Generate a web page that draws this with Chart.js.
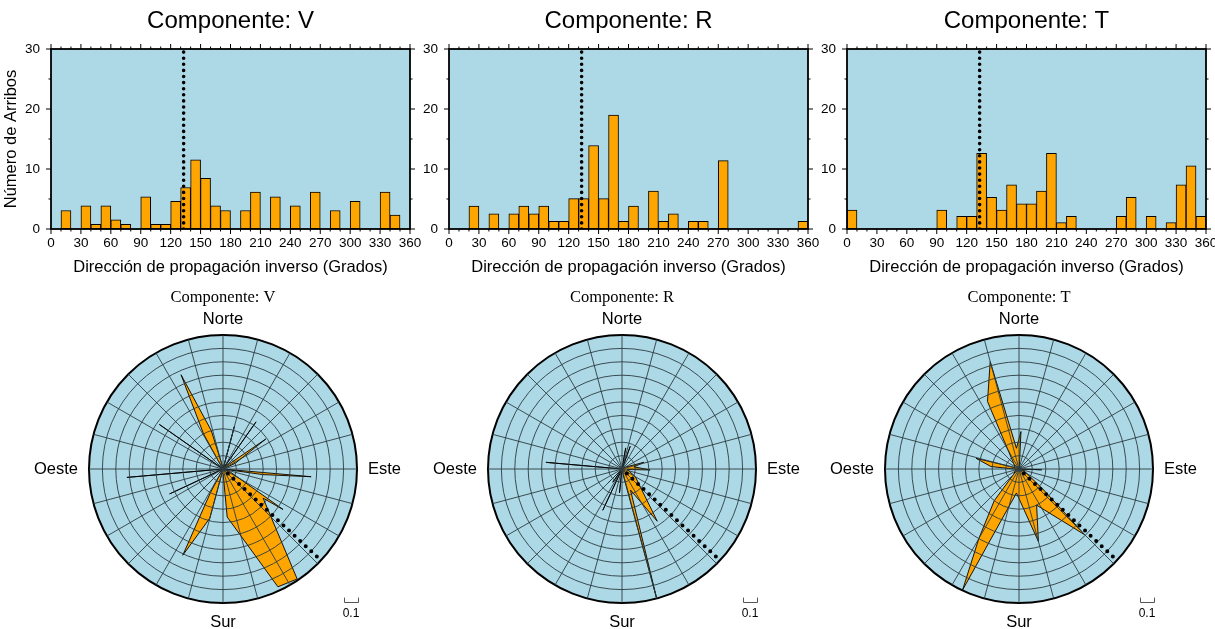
<!DOCTYPE html>
<html>
<head>
<meta charset="utf-8">
<script src="https://cdn.jsdelivr.net/npm/chart.js@4.4.1/dist/chart.umd.min.js"></script>
<style>
html, body { margin: 0; padding: 0; background: #fff; width: 1215px; height: 629px; overflow: hidden; position: relative; }
canvas { position: absolute; }
</style>
</head>
<body>
<canvas id="histV" width="430" height="285" style="left:0px;top:0px"></canvas>
<canvas id="histR" width="430" height="285" style="left:400px;top:0px"></canvas>
<canvas id="histT" width="430" height="285" style="left:800px;top:0px"></canvas>
<canvas id="roseV" width="410" height="344" style="left:0px;top:285px"></canvas>
<canvas id="roseR" width="400" height="344" style="left:410px;top:285px"></canvas>
<canvas id="roseT" width="405" height="344" style="left:810px;top:285px"></canvas>
<script>
// 10-degree bins (left edge of each bin)
const binStarts = [0, 10, 20, 30, 40, 50, 60, 70, 80, 90, 100, 110, 120, 130, 140, 150, 160, 170,
                   180, 190, 200, 210, 220, 230, 240, 250, 260, 270, 280, 290, 300, 310, 320, 330, 340, 350];
const xTickValues = [0, 30, 60, 90, 120, 150, 180, 210, 240, 270, 300, 330, 360];
const yTickValues = [0, 10, 20, 30];

// percentage of arrivals per bin
const arribosV = [0, 3.08, 0, 3.85, 0.77, 3.85, 1.54, 0.77, 0, 5.38, 0.77, 0.77, 4.62, 6.92, 11.54, 8.46, 3.85, 3.08,
                  0, 3.08, 6.15, 0, 5.38, 0, 3.85, 0, 6.15, 0, 3.08, 0, 4.62, 0, 0, 6.15, 2.31, 0];
const arribosR = [0, 0, 3.8, 0, 2.53, 0, 2.53, 3.8, 2.53, 3.8, 1.27, 1.27, 5.06, 5.06, 13.92, 5.06, 18.99, 1.27,
                  3.8, 0, 6.33, 1.27, 2.53, 0, 1.27, 1.27, 0, 11.39, 0, 0, 0, 0, 0, 0, 0, 1.27];
const arribosT = [3.16, 0, 0, 0, 0, 0, 0, 0, 0, 3.16, 0, 2.11, 2.11, 12.63, 5.26, 3.16, 7.37, 4.21,
                  4.21, 6.32, 12.63, 1.05, 2.11, 0, 0, 0, 0, 2.11, 5.26, 0, 2.11, 0, 1.05, 7.37, 10.53, 2.11];

// expected back-azimuth (dotted line)
const backAzimuth = 133;

// rose diagrams: azimuth (deg, clockwise from north) and normalised length
const roseAzV = [14, 15, 16, 34, 35, 36, 50, 55, 65, 70, 93, 95, 98, 102,
                 110, 124, 126, 146, 155, 175, 178, 193, 195, 205, 208, 212,
                 224, 225, 226, 244, 245, 246, 264, 265, 266, 304, 305, 306, 328, 331, 336, 343, 350];
const roseLenV = [0, 0.33, 0, 0, 0.43, 0, 0.05, 0.39, 0.1, 0, 0, 0.66, 0.3, 0,
                  0.05, 0.54, 0.37, 0.99, 0.97, 0.36, 0.04, 0.03, 0.38, 0.71, 0.2, 0,
                  0, 0.65, 0, 0, 0.44, 0, 0, 0.72, 0, 0, 0.58, 0, 0.02, 0.3, 0.77, 0.3, 0.02];

const roseAzR = [9, 10, 11, 19, 20, 21, 62, 73, 80, 85, 92, 95, 120, 146, 158, 165, 168,
                 185, 186, 187, 204, 205, 206, 214, 215, 216, 224, 225, 226, 274, 275, 276];
const roseLenR = [0, 0.16, 0, 0, 0.18, 0, 0.03, 0.17, 0.09, 0.12, 0.21, 0.04, 0.115, 0.47, 0.17, 1.0, 0.06,
                  0, 0.18, 0, 0, 0.34, 0, 0, 0.12, 0, 0, 0.15, 0, 0, 0.57, 0];

const roseAzT = [3, 8, 91, 92, 93, 110, 130, 135, 154, 165, 186, 205, 210, 218, 225,
                 265, 275, 284, 290, 320, 335, 345, 353];
const roseLenT = [0.28, 0.02, 0, 0.17, 0, 0.04, 0.23, 0.695, 0.3, 0.56, 0.18, 0.995, 0.6, 0.3, 0.06,
                  0.02, 0.21, 0.33, 0.03, 0.07, 0.556, 0.83, 0.156];

const degreeLabels = Array.from({ length: 360 }, (_, i) => String(i));

const SANS = "'Liberation Sans', Arial, Helvetica, sans-serif";
const SERIF = "'Liberation Serif', 'Times New Roman', serif";
const PANEL_BG = 'rgb(173, 216, 230)';
const PETAL = 'rgb(255, 165, 0)';
const GRID = '#2c3c42';

// light blue plot area, plus a frame with outward ticks on all four sides
const histFrame = {
    id: 'histFrame',
    beforeDatasetsDraw(chart) {
        const { ctx, chartArea: a } = chart;
        ctx.save();
        ctx.fillStyle = PANEL_BG;
        ctx.fillRect(a.left, a.top, a.width, a.height);
        ctx.restore();
    },
    afterDraw(chart) {
        const { ctx, chartArea: a, scales: { x, y } } = chart;
        ctx.save();
        ctx.strokeStyle = '#000';
        ctx.lineWidth = 1;
        ctx.beginPath();
        for (let v = 0; v <= 360; v += 10) {
            const px = x.getPixelForValue(v);
            const len = v % 30 === 0 ? 5 : 2.5;
            ctx.moveTo(px, a.bottom); ctx.lineTo(px, a.bottom + len);
            ctx.moveTo(px, a.top); ctx.lineTo(px, a.top - len);
        }
        for (let v = 0; v <= 30; v += 5) {
            const py = y.getPixelForValue(v);
            const len = v % 10 === 0 ? 5 : 2.5;
            ctx.moveTo(a.left, py); ctx.lineTo(a.left - len, py);
            ctx.moveTo(a.right, py); ctx.lineTo(a.right + len, py);
        }
        ctx.stroke();
        ctx.lineWidth = 1.8;
        ctx.strokeRect(a.left, a.top, a.width, a.height);
        ctx.restore();
    }
};

function makeHist(id, title, values, yWidth, padRight, showYTitle) {
    new Chart(document.getElementById(id), {
        type: 'bar',
        data: {
            datasets: [{
                type: 'line',
                data: [{ x: backAzimuth, y: 0 }, { x: backAzimuth, y: 30 }],
                borderColor: '#000',
                borderWidth: 3.6,
                borderDash: [0, 6.1],
                borderCapStyle: 'round',
                pointRadius: 0,
                order: 0
            }, {
                data: binStarts.map((b, i) => ({ x: b + 5, y: values[i] })),
                backgroundColor: PETAL,
                borderColor: '#000',
                borderWidth: 1,
                borderSkipped: false,
                barPercentage: 1,
                categoryPercentage: 1,
                order: 1
            }]
        },
        options: {
            responsive: false,
            animation: false,
            events: [],
            layout: { padding: { left: 0, right: padRight, top: 0, bottom: 0 } },
            plugins: {
                legend: { display: false },
                tooltip: { enabled: false },
                title: {
                    display: true,
                    text: title,
                    fullSize: false,
                    color: '#000',
                    font: { family: SANS, size: 24, weight: 'normal' },
                    padding: { top: 7.3, bottom: 12.9 }
                }
            },
            scales: {
                x: {
                    type: 'linear',
                    min: 0,
                    max: 360,
                    offset: false,
                    grid: { display: false, drawTicks: false, offset: false },
                    border: { display: false },
                    afterBuildTicks: (s) => { s.ticks = xTickValues.map(v => ({ value: v })); },
                    afterFit: (s) => { s.height = 56; },
                    ticks: {
                        autoSkip: false,
                        maxRotation: 0,
                        padding: 6,
                        color: '#000',
                        font: { family: SANS, size: 13.5 }
                    },
                    title: {
                        display: true,
                        text: 'Dirección de propagación inverso (Grados)',
                        color: '#000',
                        font: { family: SANS, size: 16.5 },
                        padding: { top: 0, bottom: 8 }
                    }
                },
                y: {
                    min: 0,
                    max: 30,
                    grid: { display: false, drawTicks: false },
                    border: { display: false },
                    afterBuildTicks: (s) => { s.ticks = yTickValues.map(v => ({ value: v })); },
                    afterFit: (s) => { s.width = yWidth; },
                    ticks: {
                        padding: 11,
                        color: '#000',
                        font: { family: SANS, size: 13.5 }
                    },
                    title: {
                        display: showYTitle,
                        text: 'Número de Arribos',
                        color: '#000',
                        font: { family: SANS, size: 16.5 },
                        padding: { top: 2, bottom: 0 }
                    }
                }
            }
        },
        plugins: [histFrame]
    });
}

// rose background, dotted back-azimuth, compass labels and scale bar
const roseDecor = {
    id: 'roseDecor',
    beforeDatasetsDraw(chart) {
        const s = chart.scales.r;
        const ctx = chart.ctx;
        ctx.save();
        ctx.fillStyle = PANEL_BG;
        ctx.beginPath();
        ctx.arc(s.xCenter, s.yCenter, s.drawingArea, 0, Math.PI * 2);
        ctx.fill();
        ctx.restore();
    },
    afterDraw(chart) {
        const s = chart.scales.r;
        const ctx = chart.ctx;
        const xc = s.xCenter, yc = s.yCenter, R = s.drawingArea;
        ctx.save();
        const p0 = s.getPointPositionForValue(backAzimuth, 0.05);
        const p1 = s.getPointPositionForValue(backAzimuth, 0.96);
        ctx.strokeStyle = '#000';
        ctx.lineWidth = 4;
        ctx.lineCap = 'round';
        ctx.setLineDash([0, 7.6]);
        ctx.beginPath();
        ctx.moveTo(p0.x, p0.y);
        ctx.lineTo(p1.x, p1.y);
        ctx.stroke();
        ctx.setLineDash([]);

        ctx.fillStyle = '#000';
        ctx.font = '16.5px ' + SANS;
        ctx.textBaseline = 'alphabetic';
        ctx.textAlign = 'center';
        ctx.fillText('Norte', xc, yc - R - 11);
        ctx.fillText('Sur', xc, yc + R + 24);
        ctx.textBaseline = 'middle';
        ctx.textAlign = 'right';
        ctx.fillText('Oeste', xc - R - 11, yc);
        ctx.textAlign = 'left';
        ctx.fillText('Este', xc + R + 11, yc);

        ctx.strokeStyle = '#555';
        ctx.lineWidth = 1;
        ctx.beginPath();
        ctx.moveTo(xc + 121.5, yc + 129);
        ctx.lineTo(xc + 121.5, yc + 133.5);
        ctx.lineTo(xc + 135.5, yc + 133.5);
        ctx.lineTo(xc + 135.5, yc + 129);
        ctx.stroke();
        ctx.font = '12px ' + SANS;
        ctx.textAlign = 'center';
        ctx.textBaseline = 'alphabetic';
        ctx.fillText('0.1', xc + 128, yc + 148);
        ctx.restore();
    }
};

function makeRose(id, title, az, len, padLeft, padRight) {
    const values = new Array(360).fill(null);
    az.forEach((a, i) => { values[a] = len[i]; });
    new Chart(document.getElementById(id), {
        type: 'radar',
        data: {
            labels: degreeLabels,
            datasets: [{
                data: values,
                spanGaps: true,
                fill: true,
                backgroundColor: PETAL,
                borderColor: '#000',
                borderWidth: 0.9,
                pointRadius: 0
            }]
        },
        options: {
            responsive: false,
            animation: false,
            events: [],
            layout: { padding: { left: padLeft, right: padRight, top: 0, bottom: 26 } },
            plugins: {
                legend: { display: false },
                tooltip: { enabled: false },
                title: {
                    display: true,
                    text: title,
                    color: '#000',
                    font: { family: SERIF, size: 16.5, weight: 'normal' },
                    padding: { top: 3, bottom: 27.2 }
                }
            },
            scales: {
                r: {
                    min: 0,
                    max: 1,
                    ticks: { display: false, stepSize: 0.1 },
                    pointLabels: { display: false },
                    grid: {
                        circular: true,
                        z: 1,
                        color: (c) => c.tick && c.tick.value > 0.99 ? '#000' : GRID,
                        lineWidth: (c) => c.tick && c.tick.value > 0.99 ? 2 : 0.9
                    },
                    angleLines: {
                        color: GRID,
                        lineWidth: (c) => c.index % 15 === 0 ? 0.9 : 0
                    }
                }
            }
        },
        plugins: [roseDecor]
    });
}

window.onload = function () {
    makeHist('histV', 'Componente: V', arribosV, 51, 20, true);
    makeHist('histR', 'Componente: R', arribosR, 49, 22, false);
    makeHist('histT', 'Componente: T', arribosT, 47, 24, false);
    makeRose('roseV', 'Componente: V', roseAzV, roseLenV, 89, 53);
    makeRose('roseR', 'Componente: R', roseAzR, roseLenR, 78, 54);
    makeRose('roseT', 'Componente: T', roseAzT, roseLenT, 75, 62);
};
</script>
</body>
</html>
